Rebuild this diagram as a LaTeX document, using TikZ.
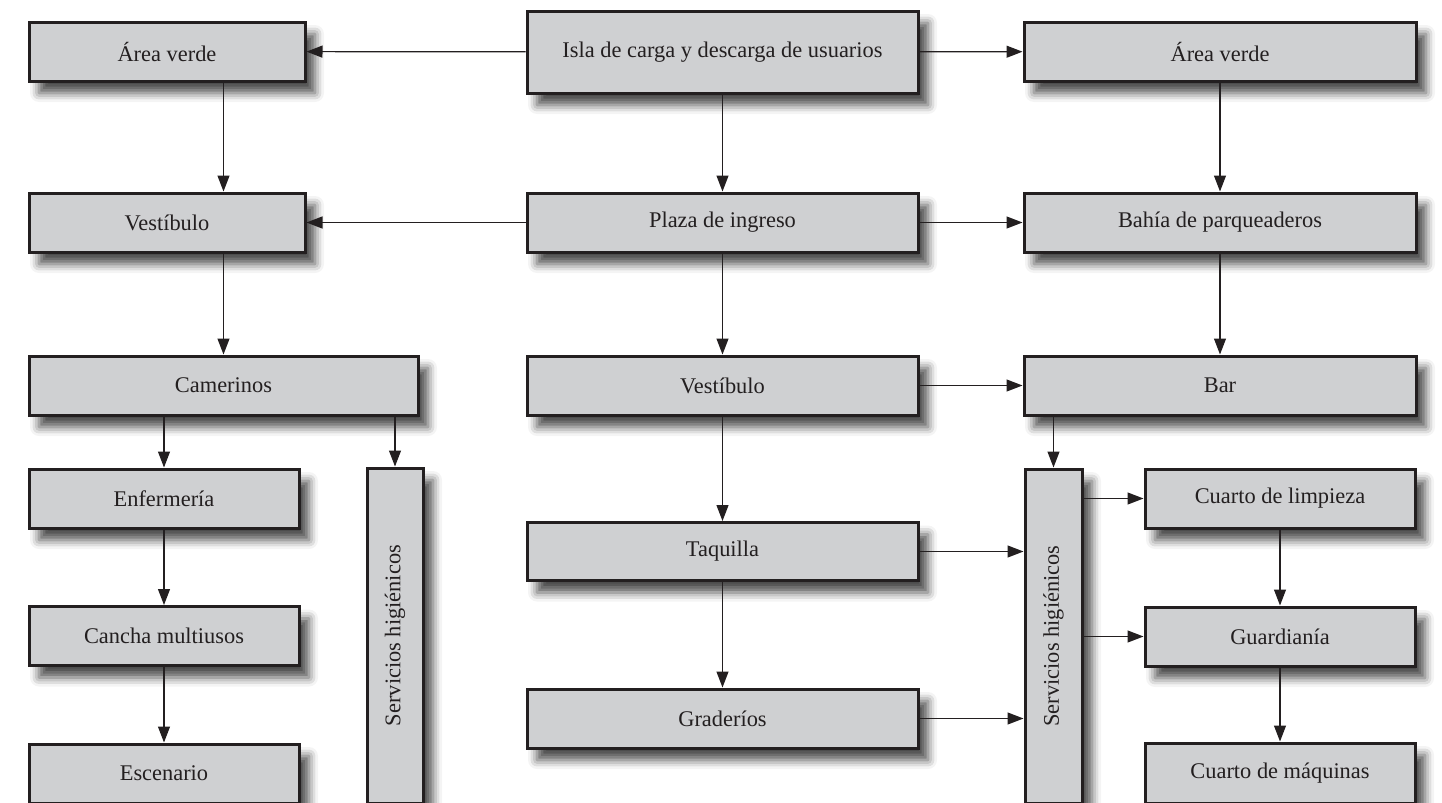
\documentclass[tikz,border=0pt]{standalone}
\usepackage{fontspec}
\setmainfont{Liberation Serif}
\usetikzlibrary{arrows.meta,shadows.blur}

\definecolor{gris}{HTML}{CFD0D2}
\definecolor{trazo}{HTML}{231F20}

\newcommand{\Bloque}[6]{
\node[Bloque,minimum width=#4*0.5pt,minimum height=#5*0.5pt] (#1) at (#2,#3) {#6};
}
\tikzset{every node/.style={font=\fontsize{11.2}{13}\selectfont}}
\tikzset{Bloque/.style={draw=trazo,fill=gris,line width=1.5pt,inner sep=0pt,rectangle,text=trazo,blur shadow={shadow xshift=5pt,shadow yshift=-6pt,shadow blur radius=4.5pt,shadow opacity=70}}}
\tikzset{Flecha/.style={-{Triangle[length=8pt,width=6pt]},draw=trazo,fill=trazo,line width=0.6pt}}

\begin{document}
\begin{tikzpicture}[x=0.5pt,y=-0.5pt]
\useasboundingbox (0,0) rectangle (1442,803);

% columna izquierda
\Bloque{AV1}{167}{51.5}{276}{59}{Área verde}
\Bloque{VE1}{167}{222.5}{276}{59}{Vestíbulo}
\Bloque{CA}{223.5}{385.5}{389}{59}{Camerinos}
\Bloque{EN}{164}{498.5}{270}{59}{Enfermería}
\Bloque{CM}{164}{636}{270}{59}{Cancha multiusos}
\Bloque{ES}{164}{773.5}{270}{59}{Escenario}
\Bloque{SH1}{395}{635.5}{56}{335}{\rotatebox{90}{Servicios higiénicos}}

% columna central
\Bloque{IS}{722.5}{52}{391}{82}{Isla de carga y descarga de usuarios}
\Bloque{PL}{722.5}{222.5}{391}{59}{Plaza de ingreso}
\Bloque{VE2}{722.5}{385.5}{391}{59}{Vestíbulo}
\Bloque{TA}{722.5}{551.5}{391}{58}{Taquilla}
\Bloque{GR}{722.5}{718.5}{391}{59}{Graderíos}

% columna derecha
\Bloque{AV2}{1220}{51.5}{392}{59}{Área verde}
\Bloque{BA}{1220}{222.5}{392}{59}{Bahía de parqueaderos}
\Bloque{BR}{1220}{385.5}{392}{59}{Bar}
\Bloque{SH2}{1053.5}{636}{57}{334}{\rotatebox{90}{Servicios higiénicos}}
\Bloque{CL}{1280}{498.5}{270}{59}{Cuarto de limpieza}
\Bloque{GU}{1280}{636.5}{270}{59}{Guardianía}
\Bloque{CQ}{1280}{773}{270}{60}{Cuarto de máquinas}

\draw[Flecha] (IS) -- (AV1);
\draw[Flecha] (IS) -- (AV2);
\draw[Flecha] (IS) -- (PL);
\draw[Flecha] (PL) -- (VE1);
\draw[Flecha] (PL) -- (BA);
\draw[Flecha] (PL) -- (VE2);
\draw[Flecha] (VE2) -- (BR);
\draw[Flecha] (VE2) -- (TA);
\draw[Flecha] (TA) -- (GR);
\draw[Flecha] (TA.east) -- (TA.east -| SH2.west);
\draw[Flecha] (GR.east) -- (GR.east -| SH2.west);

\draw[Flecha] (AV1.south -| CA.north) -- (VE1.north -| CA.north);
\draw[Flecha] (VE1.south -| CA.north) -- (CA.north);
\draw[Flecha] (CA.south -| EN.north) -- (EN.north);
\draw[Flecha] (EN) -- (CM);
\draw[Flecha] (CM) -- (ES);
\draw[Flecha] (CA.south -| SH1.north) -- (SH1.north);

\draw[Flecha] (AV2) -- (BA);
\draw[Flecha] (BA) -- (BR);
\draw[Flecha] (BR.south -| SH2.north) -- (SH2.north);
\draw[Flecha] (SH2.east |- CL.west) -- (CL.west);
\draw[Flecha] (SH2.east |- GU.west) -- (GU.west);
\draw[Flecha] (CL) -- (GU);
\draw[Flecha] (GU) -- (CQ);

\end{tikzpicture}
\end{document}
